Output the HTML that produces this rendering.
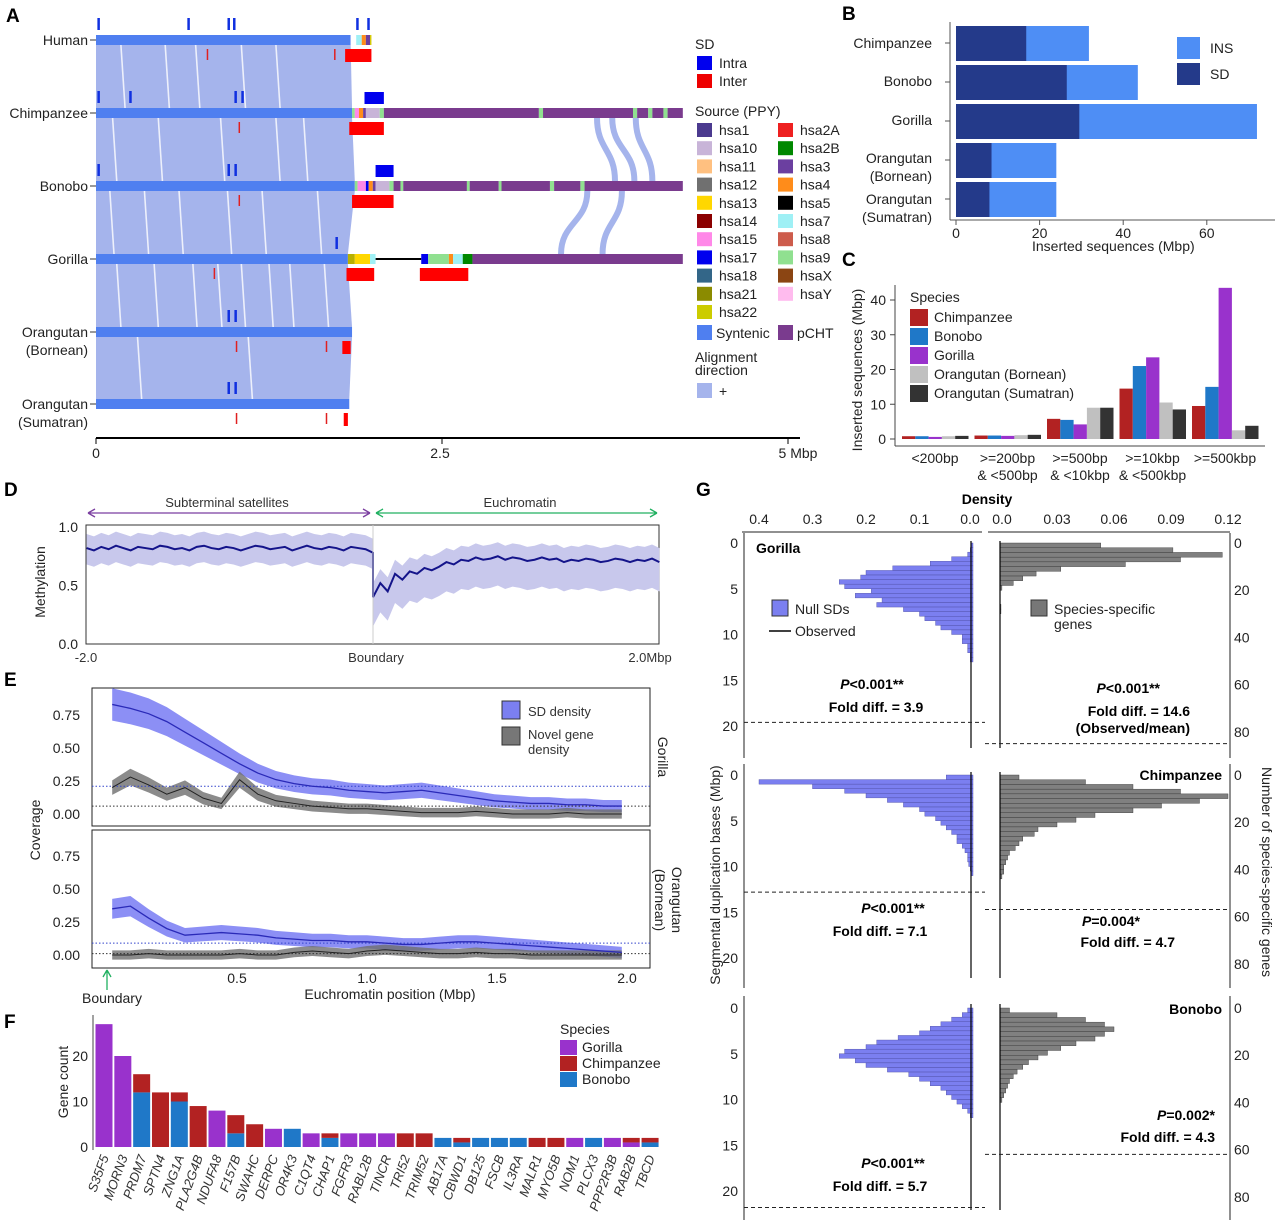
<!DOCTYPE html>
<html><head><meta charset="utf-8"><style>
html,body{margin:0;padding:0;background:#fff;}
svg{display:block;font-family:"Liberation Sans",Arial,sans-serif;}
.pl{font-size:19px;font-weight:bold;fill:#000;}
.t{font-size:14px;fill:#222;}
.ts{font-size:13px;fill:#333;}
.b{font-size:14px;font-weight:bold;fill:#000;}
</style></head><body>
<svg id="fig" width="1280" height="1222" viewBox="0 0 1280 1222">
<g id="gA"></g>
<g id="gB"></g>
<g id="gC"></g>
<g id="gD"></g>
<g id="gE"></g>
<g id="gF"></g>
<g id="gG"></g>

<text class="pl" x="6" y="22">A</text>
<text class="pl" x="842" y="20">B</text>
<text class="pl" x="842" y="266">C</text>
<text class="pl" x="4" y="496">D</text>
<text class="pl" x="4" y="686">E</text>
<text class="pl" x="4" y="1028">F</text>
<text class="pl" x="696" y="496">G</text>

<g class="t" text-anchor="end">
<text x="88" y="45">Human</text><text x="88" y="118">Chimpanzee</text><text x="88" y="191">Bonobo</text><text x="88" y="264">Gorilla</text>
<text x="88" y="337">Orangutan</text><text x="88" y="355">(Bornean)</text><text x="88" y="409">Orangutan</text><text x="88" y="427">(Sumatran)</text>
</g>
<g class="t" text-anchor="middle">
<text x="96" y="458">0</text><text x="440" y="458">2.5</text><text x="798" y="458">5 Mbp</text>
</g>
<g class="t">
<text x="695" y="49">SD</text>
<rect x="697" y="56" width="15" height="14" fill="#0000ee"/><text x="719" y="68">Intra</text>
<rect x="697" y="74" width="15" height="14" fill="#ee0000"/><text x="719" y="86">Inter</text>
<text x="695" y="116">Source (PPY)</text>
<text x="695" y="362">Alignment</text><text x="695" y="375">direction</text>
<rect x="697" y="383" width="15" height="15" fill="#a5b4ec"/><text x="719" y="396">+</text>
</g>
<g id="legA"></g>

<g class="t" text-anchor="end" fill="#333">
<text x="932" y="48">Chimpanzee</text><text x="932" y="86">Bonobo</text><text x="932" y="125">Gorilla</text>
<text x="932" y="163">Orangutan</text><text x="932" y="181">(Bornean)</text><text x="932" y="204">Orangutan</text><text x="932" y="222">(Sumatran)</text>
</g>
<text class="t" x="1032" y="251">Inserted sequences (Mbp)</text>
<g class="t">
<rect x="1177" y="37" width="23" height="22" fill="#4e8ef5"/><text x="1210" y="53">INS</text>
<rect x="1177" y="63" width="23" height="22" fill="#243a8a"/><text x="1210" y="79">SD</text>
</g>

<text class="t" transform="translate(862,370) rotate(-90)" text-anchor="middle">Inserted sequences (Mbp)</text>
<g class="t">
<text x="910" y="302">Species</text>
<rect x="910" y="309" width="18" height="17" fill="#b22222"/><text x="934" y="322">Chimpanzee</text>
<rect x="910" y="328" width="18" height="17" fill="#1f78c8"/><text x="934" y="341">Bonobo</text>
<rect x="910" y="347" width="18" height="17" fill="#9932cc"/><text x="934" y="360">Gorilla</text>
<rect x="910" y="366" width="18" height="17" fill="#c0c0c0"/><text x="934" y="379">Orangutan (Bornean)</text>
<rect x="910" y="385" width="18" height="17" fill="#333333"/><text x="934" y="398">Orangutan (Sumatran)</text>
</g>

<text class="ts" x="227" y="507" text-anchor="middle" fill="#000">Subterminal satellites</text>
<text class="ts" x="520" y="507" text-anchor="middle" fill="#000">Euchromatin</text>
<text class="t" transform="translate(45,582) rotate(-90)" text-anchor="middle">Methylation</text>
<g class="ts" text-anchor="middle">
<text x="86" y="662">-2.0</text><text x="376" y="662">Boundary</text><text x="650" y="662">2.0Mbp</text>
</g>

<text class="t" transform="translate(40,830) rotate(-90)" text-anchor="middle">Coverage</text>
<text class="t" x="390" y="999" text-anchor="middle">Euchromatin position (Mbp)</text>
<text class="t" x="112" y="1003" text-anchor="middle">Boundary</text>
<text class="t" transform="translate(658,757) rotate(90)" text-anchor="middle">Gorilla</text>
<text class="t" transform="translate(672,900) rotate(90)" text-anchor="middle">Orangutan</text>
<text class="t" transform="translate(655,900) rotate(90)" text-anchor="middle">(Bornean)</text>
<g class="ts">
<rect x="502" y="701" width="18" height="18" fill="#7b7ff0" stroke="#333"/><text x="528" y="716">SD density</text>
<rect x="502" y="727" width="18" height="18" fill="#777" stroke="#333"/><text x="528" y="739">Novel gene</text><text x="528" y="754">density</text>
</g>

<text class="t" transform="translate(68,1082) rotate(-90)" text-anchor="middle">Gene count</text>
<g class="t">
<text x="560" y="1034">Species</text>
<rect x="560" y="1040" width="17" height="15" fill="#9932cc"/><text x="582" y="1052">Gorilla</text>
<rect x="560" y="1056" width="17" height="15" fill="#b22222"/><text x="582" y="1068">Chimpanzee</text>
<rect x="560" y="1072" width="17" height="15" fill="#1f78c8"/><text x="582" y="1084">Bonobo</text>
</g>

<text class="b" x="987" y="504" text-anchor="middle">Density</text>
<text class="t" transform="translate(720,875) rotate(-90)" text-anchor="middle">Segmental duplication bases (Mbp)</text>
<text class="t" transform="translate(1262,872) rotate(90)" text-anchor="middle">Number of species-specific genes</text>
<g class="b">
<text x="756" y="553">Gorilla</text>
<text x="1222" y="780" text-anchor="end">Chimpanzee</text>
<text x="1222" y="1014" text-anchor="end">Bonobo</text>
<text x="872" y="689" text-anchor="middle"><tspan font-style="italic">P</tspan>&lt;0.001**</text>
<text x="876" y="712" text-anchor="middle">Fold diff. = 3.9</text>
<text x="1160" y="693" text-anchor="end"><tspan font-style="italic">P</tspan>&lt;0.001**</text>
<text x="1190" y="716" text-anchor="end">Fold diff. = 14.6</text>
<text x="1190" y="733" text-anchor="end">(Observed/mean)</text>
<text x="893" y="913" text-anchor="middle"><tspan font-style="italic">P</tspan>&lt;0.001**</text>
<text x="880" y="936" text-anchor="middle">Fold diff. = 7.1</text>
<text x="1140" y="926" text-anchor="end"><tspan font-style="italic">P</tspan>=0.004*</text>
<text x="1175" y="947" text-anchor="end">Fold diff. = 4.7</text>
<text x="893" y="1168" text-anchor="middle"><tspan font-style="italic">P</tspan>&lt;0.001**</text>
<text x="880" y="1191" text-anchor="middle">Fold diff. = 5.7</text>
<text x="1215" y="1120" text-anchor="end"><tspan font-style="italic">P</tspan>=0.002*</text>
<text x="1215" y="1142" text-anchor="end">Fold diff. = 4.3</text>
</g>
<g class="t">
<rect x="772" y="600" width="16" height="16" fill="#7b7ff0" stroke="#333"/><text x="795" y="614">Null SDs</text>
<line x1="769" y1="631" x2="791" y2="631" stroke="#000" stroke-width="1.5"/><text x="795" y="636">Observed</text>
<rect x="1031" y="600" width="16" height="16" fill="#777" stroke="#333"/><text x="1054" y="614">Species-specific</text><text x="1054" y="629">genes</text>
</g>
</svg>
<script>
const NS='http://www.w3.org/2000/svg';
function mk(tag,at,par){const e=document.createElementNS(NS,tag);for(const k in at)e.setAttribute(k,at[k]);par.appendChild(e);return e;}
function txt(s,at,par){const e=mk('text',at,par);e.textContent=s;return e;}

/* ================= PANEL A ================= */
const aSpecies=['human','chimpanzee','bonobo','gorilla','orangutan-bornean','orangutan-sumatran'];
const aTrackY=[40,113,186,259,332,404];
const aSyntenicEnd=[1.84,1.85,1.87,1.82,1.85,1.83];
const aSegments=[
 [[1.84,1.88,'#ffffff'],[1.88,1.92,'#9ff0f5'],[1.92,1.95,'#ff8c1a'],[1.95,1.98,'#6b3fa0'],[1.98,1.99,'#d4c800']],
 [[1.85,1.87,'#90e090'],[1.87,1.9,'#ff88e8'],[1.9,1.93,'#ff8c1a'],[1.93,1.95,'#6b3fa0'],[1.95,2.05,'#c8b4d8'],[2.05,2.08,'#90e090'],[2.08,3.2,'#7a3b8e'],[3.2,3.23,'#90e090'],[3.23,3.88,'#7a3b8e'],[3.88,3.91,'#90e090'],[3.91,3.99,'#7a3b8e'],[3.99,4.02,'#90e090'],[4.02,4.1,'#7a3b8e'],[4.1,4.13,'#90e090'],[4.13,4.24,'#7a3b8e']],
 [[1.87,1.89,'#90e090'],[1.89,1.95,'#ff88e8'],[1.95,1.97,'#0000ee'],[1.97,2.0,'#ff8c1a'],[2.0,2.02,'#6b3fa0'],[2.02,2.12,'#c8b4d8'],[2.12,2.15,'#90e090'],[2.15,2.2,'#7a3b8e'],[2.2,2.22,'#90e090'],[2.22,2.68,'#7a3b8e'],[2.68,2.7,'#90e090'],[2.7,2.91,'#7a3b8e'],[2.91,2.93,'#90e090'],[2.93,3.28,'#7a3b8e'],[3.28,3.31,'#90e090'],[3.31,3.5,'#7a3b8e'],[3.5,3.53,'#90e090'],[3.53,4.24,'#7a3b8e']],
 [[1.82,1.87,'#b8b000'],[1.87,1.98,'#ffd700'],[1.98,2.02,'#9ff0f5'],[2.35,2.4,'#0000ee'],[2.4,2.55,'#90e090'],[2.55,2.58,'#ff8c1a'],[2.58,2.65,'#9ff0f5'],[2.65,2.72,'#008800'],[2.72,4.24,'#7a3b8e']],
 [],[]];
const aLineSeg=[null,null,null,[2.02,2.35],null,null];
const aIntra=[[0.01,0.66,0.95,0.99,1.88,1.96],[0.01,0.24,1.0,1.05],[0.01,0.95,1.0],[1.73],[0.95,1.0],[0.95,1.0]];
const aInter=[[0.8,1.72],[1.03],[1.03],[0.85],[1.01,1.66],[1.01,1.66]];
const aSdBlocksInter=[[[1.8,1.99]],[[1.83,2.08]],[[1.85,2.15]],[[1.81,2.01],[2.34,2.69]],[[1.78,1.84]],[[1.79,1.82]]];
const aSdBlocksIntra=[[],[[1.94,2.08]],[[2.02,2.15]],[],[],[]];
const aGaps=[[0.18,0.5,0.72,1.05,1.3],[0.12,0.45,0.9,1.3,1.5],[0.1,0.35,0.6,0.95,1.2,1.6],[0.15,0.42,0.7,0.88,1.05,1.25,1.4,1.65],[0.3,1.1]];
const aLoops=[[1,3.9,2,4.02],[1,3.62,2,3.75],[1,3.73,2,3.89],[2,3.55,3,3.36],[2,3.8,3,3.66]];
const aX=v=>96+v*138.4;
const gA=document.getElementById('gA');
for(let i=0;i<5;i++){
 const y1=aTrackY[i]+5,y2=aTrackY[i+1]-5;
 const band=mk('polygon',{points:`${aX(0)},${y1} ${aX(aSyntenicEnd[i])},${y1} ${aX(aSyntenicEnd[i+1])},${y2} ${aX(0)},${y2}`,fill:'#a5b4ec'},gA);
 
 
 aGaps[i].forEach(g=>{
  const gl=mk('line',{x1:aX(g),y1:y1,x2:aX(g+0.03),y2:y2,stroke:'#fff','stroke-width':1.6,'stroke-opacity':0.8},gA);
  
  
 });
}
aLoops.forEach(l=>{
 const y1=aTrackY[l[0]]+5,y2=aTrackY[l[2]]-5,x1=aX(l[1]),x2=aX(l[3]);
 const p=mk('path',{d:`M${x1},${y1} C${x1},${(y1+y2)/2} ${x2},${(y1+y2)/2} ${x2},${y2}`,fill:'none',stroke:'#a5b4ec','stroke-width':6},gA);
 
 
});
aTrackY.forEach((y,i)=>{
 const tk=mk('line',{x1:90,y1:y,x2:96,y2:y,stroke:'#333'},gA);
 
 
 if(aLineSeg[i]){const ln=mk('line',{x1:aX(aLineSeg[i][0]),y1:y,x2:aX(aLineSeg[i][1]),y2:y,stroke:'#000','stroke-width':2},gA);
  
  }
 const s=mk('rect',{x:aX(0),y:y-5,width:aX(aSyntenicEnd[i])-aX(0),height:10,fill:'#4f7ff0'},gA);
 
 
 aSegments[i].forEach(sg=>{
  const r=mk('rect',{x:aX(sg[0]),y:y-5,width:aX(sg[1])-aX(sg[0]),height:10,fill:sg[2]},gA);
  
  
 });
 aIntra[i].forEach(v=>{const r=mk('rect',{x:aX(v),y:y-22,width:2.5,height:12,fill:'#1030e0'},gA);
  
  });
 aInter[i].forEach(v=>{const r=mk('rect',{x:aX(v),y:y+9,width:1.5,height:11,fill:'#e02020'},gA);
  
  });
 aSdBlocksInter[i].forEach(b=>{const r=mk('rect',{x:aX(b[0]),y:y+9,width:aX(b[1])-aX(b[0]),height:13,fill:'#ff0000'},gA);
  
  });
 aSdBlocksIntra[i].forEach(b=>{const r=mk('rect',{x:aX(b[0]),y:y-21,width:aX(b[1])-aX(b[0]),height:12,fill:'#0000ee'},gA);
  
  });
});
const aAxis=mk('line',{x1:96,y1:438,x2:800,y2:438,stroke:'#000','stroke-width':2},gA);


[0,2.5,5].forEach(v=>{const t=mk('line',{x1:aX(v),y1:438,x2:aX(v),y2:444,stroke:'#000'},gA);
 
 });
const srcNames=['hsa1','hsa10','hsa11','hsa12','hsa13','hsa14','hsa15','hsa17','hsa18','hsa21','hsa22','hsa2A','hsa2B','hsa3','hsa4','hsa5','hsa7','hsa8','hsa9','hsaX','hsaY'];
const srcColors=['#4b3a8f','#c8b4d8','#ffc080','#707070','#ffd700','#8b0000','#ff88e8','#0000ee','#336688','#8b8b00','#cccc00','#ee2020','#008800','#6b3fa0','#ff8c1a','#000000','#9ff0f5','#cd5c4c','#90e090','#8b4513','#ffbbee'];
const legA=document.getElementById('legA');
srcNames.forEach((n,i)=>{
 const col=i<11?0:1,row=i<11?i:i-11;
 const x=col?778:697,y=123+row*18.2;
 const r=mk('rect',{x:x,y:y,width:15,height:14,fill:srcColors[i]},legA);
 
 
 const t=txt(n,{x:x+22,y:y+12,class:'t'},legA);
 
 
});
[['Syntenic','#4f7ff0',697],['pCHT','#7a3b8e',778]].forEach(e=>{
 const r=mk('rect',{x:e[2],y:325,width:15,height:15,fill:e[1]},legA);
 
 
 const t=txt(e[0],{x:e[2]+19,y:338,class:'t'},legA);
 
 
});

/* ================= PANEL B ================= */
const bCats=['Chimpanzee','Bonobo','Gorilla','Orangutan (Bornean)','Orangutan (Sumatran)'];
const bSD=[16.8,26.5,29.5,8.5,8];
const bTotal=[31.8,43.5,72,24,24];
const bTicks=[0,20,40,60];
const gB=document.getElementById('gB');
const bX=v=>956+v*4.18;
const bY=[26,65,104,143,182];
bCats.forEach((c,i)=>{
 const t=mk('rect',{x:bX(0),y:bY[i],width:bX(bTotal[i])-bX(0),height:35,fill:'#4e8ef5'},gB);
 
 
 const s=mk('rect',{x:bX(0),y:bY[i],width:bX(bSD[i])-bX(0),height:35,fill:'#243a8a'},gB);
 
 
 const tk=mk('line',{x1:945,y1:bY[i]+17,x2:950,y2:bY[i]+17,stroke:'#555'},gB);
 
 
});
const bAx=mk('line',{x1:950,y1:22,x2:950,y2:220,stroke:'#555'},gB);


const bAx2=mk('line',{x1:950,y1:220,x2:1275,y2:220,stroke:'#555'},gB);


bTicks.forEach(v=>{
 const l=mk('line',{x1:bX(v),y1:220,x2:bX(v),y2:225,stroke:'#555'},gB);
 
 
 const t=txt(String(v),{x:bX(v),y:238,'text-anchor':'middle',class:'t'},gB);
 
 
});

/* ================= PANEL C ================= */
const cCats=['<200bp','>=200bp|& <500bp','>=500bp|& <10kbp','>=10kbp|& <500kbp','>=500kbp'];
const cSpecies=['Chimpanzee','Bonobo','Gorilla','Orangutan (Bornean)','Orangutan (Sumatran)'];
const cColors=['#b22222','#1f78c8','#9932cc','#c0c0c0','#333333'];
const cChimp=[0.8,1.0,5.8,14.5,9.5];
const cBonobo=[0.8,1.0,5.5,21,15];
const cGorilla=[0.6,0.9,4.2,23.5,43.5];
const cOrangB=[0.8,1.1,9,10.5,2.5];
const cOrangS=[0.9,1.2,9,8.5,3.8];
const cTicks=[0,10,20,30,40];
const cVals=[cChimp,cBonobo,cGorilla,cOrangB,cOrangS];
const gC=document.getElementById('gC');
const cY=v=>439-v*3.475;
const cXc=i=>935+i*72.5;
const cAx=mk('line',{x1:895,y1:285,x2:895,y2:446,stroke:'#444'},gC);


const cAxX=mk('line',{x1:895,y1:446,x2:1265,y2:446,stroke:'#444'},gC);


cTicks.forEach(v=>{
 const l=mk('line',{x1:890,y1:cY(v),x2:895,y2:cY(v),stroke:'#444'},gC);
 
 
 const t=txt(String(v),{x:886,y:cY(v)+5,'text-anchor':'end',class:'t'},gC);
 
 
});
cCats.forEach((c,i)=>{
 cVals.forEach((arr,s)=>{
  const x=cXc(i)-33+s*13.3;
  const r=mk('rect',{x:x,y:cY(arr[i]),width:13.3,height:cY(0)-cY(arr[i]),fill:cColors[s]},gC);
  
  
 });
 const parts=c.split('|');
 parts.forEach((p,k)=>{
  const t=txt(p,{x:cXc(i),y:463+k*17,'text-anchor':'middle',class:'t'},gC);
  
  
 });
});

/* ================= PANEL D ================= */
const dLeftMean=[0.82,0.8,0.83,0.81,0.84,0.82,0.8,0.83,0.82,0.81,0.84,0.83,0.81,0.82,0.8,0.83,0.84,0.82,0.81,0.83,0.82,0.8,0.82,0.84,0.83,0.81,0.82,0.83,0.8,0.82,0.84,0.82,0.81,0.83,0.82,0.8,0.83,0.82,0.81,0.78];
const dRightMean=[0.4,0.52,0.45,0.6,0.55,0.62,0.6,0.65,0.63,0.66,0.7,0.68,0.72,0.71,0.74,0.72,0.73,0.75,0.72,0.74,0.73,0.71,0.72,0.74,0.72,0.73,0.7,0.72,0.71,0.73,0.72,0.7,0.71,0.73,0.72,0.7,0.72,0.71,0.73,0.7];
const dTicks=[0,0.5,1.0];
const gD=document.getElementById('gD');
const dX=v=>373+v*143.2;
const dY=v=>644-v*117;
const dBox=mk('rect',{x:86,y:525,width:573,height:119,fill:'none',stroke:'#333'},gD);


const dMean=dLeftMean.concat(dRightMean);
const dPos=dMean.map((v,i)=>i<40?-2+i*2/39:(i-40)*2/39);
let up='',lo='';
dMean.forEach((v,i)=>{const sdw=i<40?0.14:0.25;up+=`${dX(dPos[i])},${dY(Math.min(1,v+0.12))} `;lo=`${dX(dPos[i])},${dY(Math.max(0.12,v-sdw))} `+lo;});
const dBand=mk('polygon',{points:up+lo,fill:'#c8c8ec'},gD);


const dLine=mk('polyline',{points:dMean.map((v,i)=>`${dX(dPos[i])},${dY(v)}`).join(' '),fill:'none',stroke:'#14148a','stroke-width':2},gD);


const dB=mk('line',{x1:dX(0),y1:525,x2:dX(0),y2:644,stroke:'#ccc'},gD);


dTicks.forEach(v=>{
 const t=txt(v.toFixed(1),{x:78,y:dY(v)+5,'text-anchor':'end',class:'t'},gD);
 
 
});
const arr1=mk('path',{d:'M88,513 L370,513 M88,513 l7,-4 M88,513 l7,4 M370,513 l-7,-4 M370,513 l-7,4',stroke:'#7b3fa0','stroke-width':1.3,fill:'none'},gD);


const arr2=mk('path',{d:'M376,513 L657,513 M376,513 l7,-4 M376,513 l7,4 M657,513 l-7,-4 M657,513 l-7,4',stroke:'#20b060','stroke-width':1.3,fill:'none'},gD);



/* ================= PANEL E ================= */
const ePos=[0.02,0.09,0.16,0.23,0.3,0.37,0.44,0.51,0.58,0.65,0.72,0.79,0.86,0.93,1.0,1.07,1.14,1.21,1.28,1.35,1.42,1.49,1.56,1.63,1.7,1.77,1.84,1.91,1.98];
const eSdGor=[0.83,0.8,0.76,0.7,0.62,0.54,0.46,0.38,0.31,0.26,0.23,0.21,0.2,0.18,0.17,0.16,0.17,0.18,0.16,0.14,0.12,0.1,0.09,0.08,0.08,0.07,0.07,0.06,0.06];
const eGeneGor=[0.2,0.28,0.22,0.15,0.2,0.12,0.08,0.26,0.15,0.1,0.08,0.06,0.05,0.04,0.04,0.03,0.02,0.01,0.01,0.01,0.02,0.01,0.0,0.0,0.0,0.01,0.0,0.0,0.0];
const eSdOra=[0.35,0.37,0.28,0.2,0.15,0.16,0.17,0.16,0.15,0.13,0.12,0.11,0.11,0.1,0.1,0.09,0.08,0.08,0.09,0.1,0.1,0.09,0.08,0.07,0.06,0.05,0.04,0.03,0.02];
const eGeneOra=[0,0,0.01,0,0,0,0,0.01,0,0,0.02,0.03,0.02,0.01,0.03,0.04,0.03,0.02,0.01,0.01,0.02,0.01,0.01,0,0,0,0,0,0];
const eMeans=[[0.21,0.06],[0.09,0.01]];
const eTicksY=[0,0.25,0.5,0.75];
const eTicksX=[0.5,1.0,1.5,2.0];
const gE=document.getElementById('gE');
const eX=v=>107+v*260;
const panelsE=[{y0:814,top:688,sd:eSdGor,gene:eGeneGor,m:eMeans[0],n:'gorilla'},{y0:955,top:830,sd:eSdOra,gene:eGeneOra,m:eMeans[1],n:'orangutan'}];
panelsE.forEach(p=>{
 const Y=v=>p.y0-v*132;
 const box=mk('rect',{x:92,y:p.top,width:558,height:138,fill:'none',stroke:'#222'},gE);
 
 
 const band=(arr,w,col,name)=>{
  let u='',l='';arr.forEach((v,i)=>{u+=`${eX(ePos[i])},${Y(v+w+v*0.1)} `;l=`${eX(ePos[i])},${Y(Math.max(-0.04,v-w-v*0.1))} `+l;});
  const pg=mk('polygon',{points:u+l,fill:col},gE);
  
  
 };
 band(p.sd,0.04,'#8c8ff5','sd-density-band-'+p.n);
 band(p.gene,0.035,'rgba(110,110,110,0.8)','gene-density-band-'+p.n);
 [[p.m[0],'#3344cc'],[p.m[1],'#333']].forEach(mm=>{
  const l=mk('line',{x1:92,y1:Y(mm[0]),x2:650,y2:Y(mm[0]),stroke:mm[1],'stroke-dasharray':'1.5,2'},gE);
  
  
 });
 const sl=mk('polyline',{points:p.sd.map((v,i)=>`${eX(ePos[i])},${Y(v)}`).join(' '),fill:'none',stroke:'#2a2ab8','stroke-width':1.3},gE);
 
 
 const gl=mk('polyline',{points:p.gene.map((v,i)=>`${eX(ePos[i])},${Y(v)}`).join(' '),fill:'none',stroke:'#222','stroke-width':1},gE);
 
 
 eTicksY.forEach(v=>{
  const t=txt(v.toFixed(2),{x:80,y:Y(v)+5,'text-anchor':'end',class:'t'},gE);
  
  
 });
});
eTicksX.forEach(v=>{
 const t=txt(v.toFixed(1),{x:eX(v),y:983,'text-anchor':'middle',class:'t'},gE);
 
 
});
const eArr=mk('path',{d:'M107,970 L107,990 M107,970 l-4,7 M107,970 l4,7',stroke:'#20b060','stroke-width':1.3,fill:'none'},gE);



/* ================= PANEL F ================= */
const fGenes=['S35F5','MORN3','PRDM7','SPTN4','ZNG1A','PLA2G4B','NDUFA8','F157B','SWAHC','DERPC','OR4K3','C1QT4','CHAP1','FGFR3','RABL2B','TINCR','TRI52','TRIM52','AB17A','CBWD1','DB125','FSCB','IL3RA','MALR1','MYO5B','NOM1','PLCX3','PPP2R3B','RAB2B','TBCD'];
const fBonobo=[0,0,12,0,10,0,0,3,0,0,4,0,2,0,0,0,0,0,2,1,2,2,2,0,0,0,2,0,0,1];
const fChimp=[0,0,4,12,2,9,0,4,5,0,0,0,1,0,0,0,3,3,0,1,0,0,0,2,2,0,0,0,1,1];
const fGorilla=[27,20,0,0,0,0,8,0,0,4,0,3,0,3,3,3,0,0,0,0,0,0,0,0,0,2,0,2,1,0];
const fTicks=[0,10,20];
const gF=document.getElementById('gF');
const fY=v=>1147-v*4.55;
const fX=i=>104+i*18.83;
const fAx=mk('line',{x1:93,y1:1015,x2:93,y2:1150,stroke:'#444'},gF);


fTicks.forEach(v=>{
 const t=txt(String(v),{x:88,y:fY(v)+5,'text-anchor':'end',class:'t'},gF);
 
 
});
fGenes.forEach((g,i)=>{
 let base=0;
 [[fBonobo,'#1f78c8','bonobo'],[fGorilla,'#9932cc','gorilla'],[fChimp,'#b22222','chimpanzee']].forEach(s=>{
  const v=s[0][i];if(!v)return;
  const r=mk('rect',{x:fX(i)-8.5,y:fY(base+v),width:17,height:fY(base)-fY(base+v),fill:s[1]},gF);
  
  
  base+=v;
 });
 const t=txt(g,{transform:`translate(${fX(i)+5},1157) rotate(-70)`,'text-anchor':'end',class:'ts','font-style':'italic',fill:'#111'},gF);
 
 
});

/* ================= PANEL G ================= */
const gLeftTicks=[0,5,10,15,20];
const gRightTicks=[0,20,40,60,80];
const gTopLeftTicks=[0.4,0.3,0.2,0.1,0.0];
const gTopRightTicks=[0.0,0.03,0.06,0.09,0.12];
const gGorNull=[0.003,0.005,0.01,0.04,0.08,0.15,0.2,0.21,0.25,0.24,0.19,0.22,0.17,0.18,0.13,0.1,0.09,0.07,0.06,0.04,0.02,0.02,0.01,0.01,0.005,0.005];
const gGorGenes=[0.053,0.091,0.117,0.095,0.066,0.032,0.019,0.012,0.007,0.001,0,0,0,0.0005,0.0005];
const gChiNull=[0.05,0.4,0.3,0.24,0.2,0.16,0.13,0.1,0.09,0.07,0.06,0.05,0.04,0.03,0.03,0.02,0.015,0.01,0.01,0.008,0.005,0.003];
const gChiGenes=[0.01,0.045,0.07,0.095,0.12,0.105,0.085,0.07,0.05,0.04,0.03,0.02,0.018,0.012,0.01,0.008,0.005,0.004,0.003,0.002,0.002,0.001];
const gBonNull=[0.01,0.02,0.04,0.06,0.08,0.1,0.14,0.18,0.2,0.24,0.25,0.22,0.2,0.16,0.12,0.1,0.08,0.06,0.05,0.04,0.03,0.02,0.01,0.005];
const gBonGenes=[0.005,0.03,0.045,0.055,0.06,0.055,0.05,0.04,0.032,0.025,0.02,0.015,0.012,0.009,0.007,0.005,0.004,0.003,0.002,0.001];
const gObsSD=[19.6,12.8,21.8];
const gObsGenes=[85,57,62];
const gGG=document.getElementById('gG');
const gxL=v=>973-v*535;
const gxR=v=>1000+v*1900;
const gPanels=[{n:'gorilla',y0:543,nul:gGorNull,gen:gGorGenes,top:533,bot:758},{n:'chimpanzee',y0:775,nul:gChiNull,gen:gChiGenes,top:764,bot:988},{n:'bonobo',y0:1008,nul:gBonNull,gen:gBonGenes,top:996,bot:1220}];
const topAx=mk('line',{x1:742,y1:532,x2:982,y2:532,stroke:'#222'},gGG);


const topAx2=mk('line',{x1:988,y1:532,x2:1230,y2:532,stroke:'#222'},gGG);


gTopLeftTicks.forEach(v=>{
 const t=txt(v.toFixed(1),{x:gxL(v)-(v===0?3:0),y:524,'text-anchor':'middle',class:'t'},gGG);
 
 
});
gTopRightTicks.forEach(v=>{
 const t=txt(v===0?'0.0':String(v),{x:gxR(v)+(v===0?2:0),y:524,'text-anchor':'middle',class:'t'},gGG);
 
 
});
gPanels.forEach((p,k)=>{
 const yL=v=>p.y0+v*9.15;
 const yR=v=>p.y0+v*2.36;
 const la=mk('line',{x1:744,y1:p.top,x2:744,y2:p.bot,stroke:'#222'},gGG);
 
 
 const ra=mk('line',{x1:1230,y1:p.top,x2:1230,y2:p.bot,stroke:'#222'},gGG);
 
 
 gLeftTicks.forEach(v=>{
  const t=txt(String(v),{x:738,y:yL(v)+5,'text-anchor':'end',class:'t'},gGG);
  
  
 });
 gRightTicks.forEach(v=>{
  const t=txt(String(v),{x:1234,y:yR(v)+5,class:'t'},gGG);
  
  
 });
 p.nul.forEach((v,i)=>{
  const r=mk('rect',{x:gxL(v),y:yL(i*0.5),width:gxL(0)-gxL(v),height:yL(0.5)-yL(0),fill:'#7b7ff0',stroke:'#4a4aa0','stroke-width':0.4},gGG);
  
  
 });
 p.gen.forEach((v,i)=>{
  const r=mk('rect',{x:gxR(0),y:yR(i*2),width:gxR(v)-gxR(0),height:yR(2)-yR(0),fill:'#808080',stroke:'#333','stroke-width':0.4},gGG);
  
  
 });
 const ol=mk('line',{x1:971,y1:p.top+8,x2:971,y2:p.bot-10,stroke:'#000','stroke-width':1.2},gGG);
 
 
 const or=mk('line',{x1:1000,y1:p.top+8,x2:1000,y2:p.bot-10,stroke:'#000','stroke-width':1.2},gGG);
 
 
 const d1=mk('line',{x1:744,y1:yL(gObsSD[k]),x2:985,y2:yL(gObsSD[k]),stroke:'#222','stroke-dasharray':'4,3'},gGG);
 
 
 const d2=mk('line',{x1:985,y1:yR(gObsGenes[k]),x2:1230,y2:yR(gObsGenes[k]),stroke:'#222','stroke-dasharray':'4,3'},gGG);
 
 
});
</script>
</body></html>
